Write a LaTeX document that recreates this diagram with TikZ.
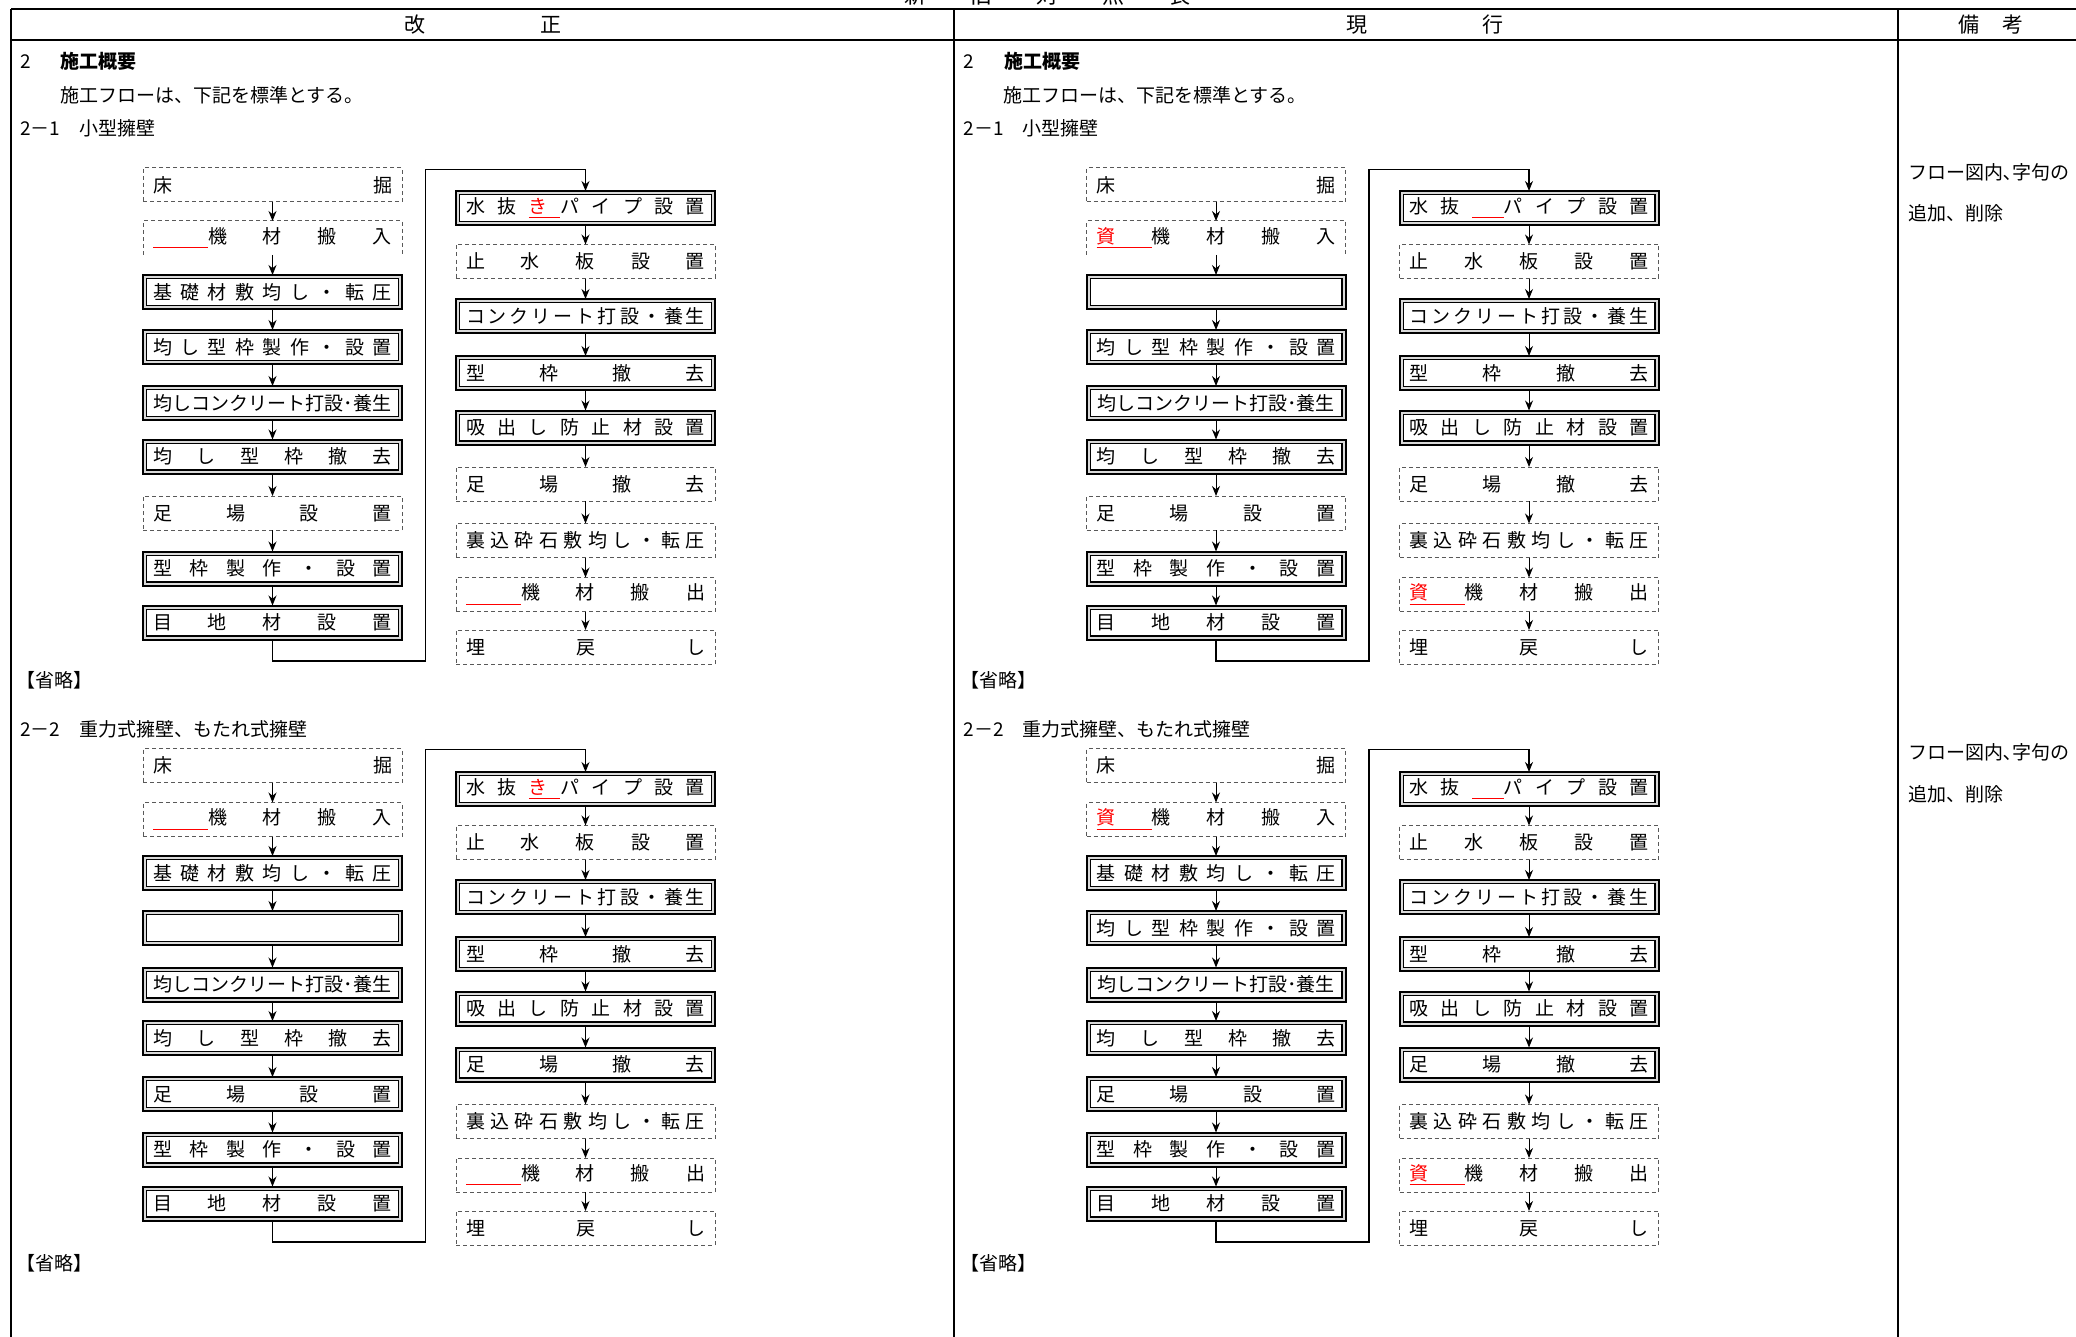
\documentclass[tikz,border=0pt]{standalone}
\usepackage{fontspec}
\setmainfont{Noto Sans CJK JP}
\usetikzlibrary{arrows.meta}
\newcommand\myDist[1]{\hbox to 119.5pt{\myDL#1\relax}}
\def\myDL#1{\ifx#1\relax\else #1\expandafter\myDN\fi}
\def\myDN#1{\ifx#1\relax\else\hfill #1\expandafter\myDN\fi}
\newcommand\myRedLine[1]{\rlap{\color{red}\rule[-2.5pt]{#1}{0.7pt}}}
\newcommand\mySlot{\hbox to 9.5pt{}}
\newcommand\myInBlank{\hbox to 119.5pt{\myRedLine{27.5pt}\mySlot\hfill 機\hfill 材\hfill 搬\hfill 入}}
\newcommand\myOutBlank{\hbox to 119.5pt{\myRedLine{27.5pt}\mySlot\hfill 機\hfill 材\hfill 搬\hfill 出}}
\newcommand\myInShi{\hbox to 119.5pt{\myRedLine{27.5pt}\textcolor{red}{資}\hfill 機\hfill 材\hfill 搬\hfill 入}}
\newcommand\myOutShi{\hbox to 119.5pt{\myRedLine{27.5pt}\textcolor{red}{資}\hfill 機\hfill 材\hfill 搬\hfill 出}}
\newcommand\myPipeKi{\hbox to 119.5pt{水\hfill 抜\hfill \myRedLine{15.7pt}\textcolor{red}{き}\hfill パ\hfill イ\hfill プ\hfill 設\hfill 置}}
\newcommand\myPipeBlank{\hbox to 119.5pt{水\hfill 抜\hfill \myRedLine{15.7pt}\mySlot\hfill パ\hfill イ\hfill プ\hfill 設\hfill 置}}
\newcommand\myNarashiCon{\hbox to 119.5pt{\hss 均しコンクリート打設･養生\hss}}
\tikzset{
  x=0.5pt, y=-0.5pt,
  every node/.style={inner sep=0pt, outer sep=0pt},
  boxbase/.style={minimum width=129.5pt, minimum height=17pt, font=\fontsize{9.5pt}{11pt}\selectfont},
  dashbox/.style={boxbase, draw=gray!70!black, line width=0.5pt, dash pattern=on 2pt off 1.5pt},
  openbox/.style={boxbase},
  dashline/.style={draw=gray!70!black, line width=0.5pt, dash pattern=on 2pt off 1.5pt},
  dbox/.style={boxbase, draw=black, line width=1pt, fill=gray!30,
    path picture={\draw[line width=0.6pt, fill=white] ([shift={(1.8pt,1.8pt)}]path picture bounding box.south west) rectangle ([shift={(-1.8pt,-1.8pt)}]path picture bounding box.north east);}},
  flow/.style={-{Stealth[length=5pt,width=4pt]}, line width=0.5pt},
  link/.style={-{Stealth[length=5pt,width=4pt]}, line width=0.6pt},
  tablerule/.style={line width=1pt},
  txt/.style={anchor=west, font=\fontsize{9.5pt}{11pt}\selectfont},
  head/.style={font=\fontsize{10.5pt}{12pt}\selectfont},
}
\begin{document}
\begin{tikzpicture}
\useasboundingbox (0,0) rectangle (2076,1337);
% cut-off title
\node[anchor=base, font=\fontsize{11pt}{12pt}\selectfont] (title) at (1047,3.5) {新　　旧　　対　　照　　表};
% table rules
\draw[tablerule] (11,9) -- (2076,9);
\draw[tablerule] (11,40) -- (2076,40);
\draw[tablerule] (11,9) -- (11,1337);
\draw[tablerule] (954,9) -- (954,1337);
\draw[tablerule] (1898,9) -- (1898,1337);
% header
\node[head] (h1) at (415,25) {改};
\node[head] (h2) at (551,25) {正};
\node[head] (h3) at (1357,25) {現};
\node[head] (h4) at (1493,25) {行};
\node[head] (h5) at (1969,25) {備};
\node[head] (h6) at (2013,25) {考};
% remarks
\node[txt] (r1) at (1908,172) {フロー図内､字句の};
\node[txt] (r2) at (1908,213) {追加、削除};
\node[txt] (r3) at (1908,752) {フロー図内､字句の};
\node[txt] (r4) at (1908,794) {追加、削除};

% ================= 改正 panel texts =================
\node[txt] (pa1) at (20,61) {2\hspace{15pt}{\bfseries 施工概要}};
\node[txt] (pa2) at (60,95) {施工フローは、下記を標準とする。};
\node[txt] (pa3) at (20,128) {2－1　小型擁壁};
\node[txt] (pa4) at (17,680) {【省略】};
\node[txt] (pa5) at (20,729) {2－2　重力式擁壁、もたれ式擁壁};
\node[txt] (pa6) at (17,1263) {【省略】};

% 改正 2-1
\node[dashbox] (A1) at (272.5,185) {\myDist{床掘}};
\node[openbox] (A2) at (272.5,238) {\myInBlank};
\draw[dashline] (A2.south west) |- (A2.north east) -- (A2.south east);
\node[dbox] (A3) at (272.5,292) {\myDist{基礎材敷均し・転圧}};
\node[dbox] (A4) at (272.5,347) {\myDist{均し型枠製作・設置}};
\node[dbox] (A5) at (272.5,403) {\myNarashiCon};
\node[dbox] (A6) at (272.5,456.5) {\myDist{均し型枠撤去}};
\node[dashbox] (A7) at (272.5,513) {\myDist{足場設置}};
\node[dbox] (A8) at (272.5,568.5) {\myDist{型枠製作・設置}};
\node[dbox] (A9) at (272.5,622.5) {\myDist{目地材設置}};
\node[dbox] (B1) at (585.5,208) {\myPipeKi};
\node[dashbox] (B2) at (585.5,261.5) {\myDist{止水板設置}};
\node[dbox] (B3) at (585.5,316) {\myDist{コンクリート打設・養生}};
\node[dbox] (B4) at (585.5,373) {\myDist{型枠撤去}};
\node[dbox] (B5) at (585.5,427.5) {\myDist{吸出し防止材設置}};
\node[dashbox] (B6) at (585.5,484) {\myDist{足場撤去}};
\node[dashbox] (B7) at (585.5,540.5) {\myDist{裏込砕石敷均し・転圧}};
\node[dashbox] (B8) at (585.5,594.5) {\myOutBlank};
\node[dashbox] (B9) at (585.5,647) {\myDist{埋戻し}};
\foreach \i [evaluate=\i as \j using int(\i+1)] in {1,...,8} {
  \draw[flow] (A\i.south) -- (A\j.north);
  \draw[flow] (B\i.south) -- (B\j.north);
}
\coordinate (ab1) at (425.5,661);
\coordinate (ab2) at (425.5,169.5);
\draw[link] (A9.south) |- (ab1) -- (ab2) -| (B1.north);

% 改正 2-2
\node[dashbox] (E1) at (272.5,765.5) {\myDist{床掘}};
\node[dashbox] (E2) at (272.5,819.5) {\myInBlank};
\node[dbox] (E3) at (272.5,873) {\myDist{基礎材敷均し・転圧}};
\node[dbox] (E4) at (272.5,928) {};
\node[dbox] (E5) at (272.5,984.5) {\myNarashiCon};
\node[dbox] (E6) at (272.5,1038) {\myDist{均し型枠撤去}};
\node[dbox] (E7) at (272.5,1094) {\myDist{足場設置}};
\node[dbox] (E8) at (272.5,1149.5) {\myDist{型枠製作・設置}};
\node[dbox] (E9) at (272.5,1203.5) {\myDist{目地材設置}};
\node[dbox] (F1) at (585.5,789) {\myPipeKi};
\node[dashbox] (F2) at (585.5,842.5) {\myDist{止水板設置}};
\node[dbox] (F3) at (585.5,897) {\myDist{コンクリート打設・養生}};
\node[dbox] (F4) at (585.5,954) {\myDist{型枠撤去}};
\node[dbox] (F5) at (585.5,1008.5) {\myDist{吸出し防止材設置}};
\node[dbox] (F6) at (585.5,1064.5) {\myDist{足場撤去}};
\node[dashbox] (F7) at (585.5,1121.5) {\myDist{裏込砕石敷均し・転圧}};
\node[dashbox] (F8) at (585.5,1175) {\myOutBlank};
\node[dashbox] (F9) at (585.5,1228) {\myDist{埋戻し}};
\foreach \i [evaluate=\i as \j using int(\i+1)] in {1,...,8} {
  \draw[flow] (E\i.south) -- (E\j.north);
  \draw[flow] (F\i.south) -- (F\j.north);
}
\coordinate (ef1) at (425.5,1242);
\coordinate (ef2) at (425.5,749.5);
\draw[link] (E9.south) |- (ef1) -- (ef2) -| (F1.north);

% ================= 現行 panel =================
\begin{scope}[xshift=471.75pt]
\node[txt] (pc1) at (20,61) {2\hspace{15pt}{\bfseries 施工概要}};
\node[txt] (pc2) at (60,95) {施工フローは、下記を標準とする。};
\node[txt] (pc3) at (20,128) {2－1　小型擁壁};
\node[txt] (pc4) at (17,680) {【省略】};
\node[txt] (pc5) at (20,729) {2－2　重力式擁壁、もたれ式擁壁};
\node[txt] (pc6) at (17,1263) {【省略】};

% 現行 2-1
\node[dashbox] (C1) at (272.5,185) {\myDist{床掘}};
\node[openbox] (C2) at (272.5,238) {\myInShi};
\draw[dashline] (C2.south west) |- (C2.north east) -- (C2.south east);
\node[dbox] (C3) at (272.5,292) {};
\node[dbox] (C4) at (272.5,347) {\myDist{均し型枠製作・設置}};
\node[dbox] (C5) at (272.5,403) {\myNarashiCon};
\node[dbox] (C6) at (272.5,456.5) {\myDist{均し型枠撤去}};
\node[dashbox] (C7) at (272.5,513) {\myDist{足場設置}};
\node[dbox] (C8) at (272.5,568.5) {\myDist{型枠製作・設置}};
\node[dbox] (C9) at (272.5,622.5) {\myDist{目地材設置}};
\node[dbox] (D1) at (585.5,208) {\myPipeBlank};
\node[dashbox] (D2) at (585.5,261.5) {\myDist{止水板設置}};
\node[dbox] (D3) at (585.5,316) {\myDist{コンクリート打設・養生}};
\node[dbox] (D4) at (585.5,373) {\myDist{型枠撤去}};
\node[dbox] (D5) at (585.5,427.5) {\myDist{吸出し防止材設置}};
\node[dashbox] (D6) at (585.5,484) {\myDist{足場撤去}};
\node[dashbox] (D7) at (585.5,540.5) {\myDist{裏込砕石敷均し・転圧}};
\node[dashbox] (D8) at (585.5,594.5) {\myOutShi};
\node[dashbox] (D9) at (585.5,647) {\myDist{埋戻し}};
\foreach \i [evaluate=\i as \j using int(\i+1)] in {1,...,8} {
  \draw[flow] (C\i.south) -- (C\j.north);
  \draw[flow] (D\i.south) -- (D\j.north);
}
\coordinate (cd1) at (425.5,661);
\coordinate (cd2) at (425.5,169.5);
\draw[link] (C9.south) |- (cd1) -- (cd2) -| (D1.north);

% 現行 2-2
\node[dashbox] (G1) at (272.5,765.5) {\myDist{床掘}};
\node[dashbox] (G2) at (272.5,819.5) {\myInShi};
\node[dbox] (G3) at (272.5,873) {\myDist{基礎材敷均し・転圧}};
\node[dbox] (G4) at (272.5,928) {\myDist{均し型枠製作・設置}};
\node[dbox] (G5) at (272.5,984.5) {\myNarashiCon};
\node[dbox] (G6) at (272.5,1038) {\myDist{均し型枠撤去}};
\node[dbox] (G7) at (272.5,1094) {\myDist{足場設置}};
\node[dbox] (G8) at (272.5,1149.5) {\myDist{型枠製作・設置}};
\node[dbox] (G9) at (272.5,1203.5) {\myDist{目地材設置}};
\node[dbox] (H1) at (585.5,789) {\myPipeBlank};
\node[dashbox] (H2) at (585.5,842.5) {\myDist{止水板設置}};
\node[dbox] (H3) at (585.5,897) {\myDist{コンクリート打設・養生}};
\node[dbox] (H4) at (585.5,954) {\myDist{型枠撤去}};
\node[dbox] (H5) at (585.5,1008.5) {\myDist{吸出し防止材設置}};
\node[dbox] (H6) at (585.5,1064.5) {\myDist{足場撤去}};
\node[dashbox] (H7) at (585.5,1121.5) {\myDist{裏込砕石敷均し・転圧}};
\node[dashbox] (H8) at (585.5,1175) {\myOutShi};
\node[dashbox] (H9) at (585.5,1228) {\myDist{埋戻し}};
\foreach \i [evaluate=\i as \j using int(\i+1)] in {1,...,8} {
  \draw[flow] (G\i.south) -- (G\j.north);
  \draw[flow] (H\i.south) -- (H\j.north);
}
\coordinate (gh1) at (425.5,1242);
\coordinate (gh2) at (425.5,749.5);
\draw[link] (G9.south) |- (gh1) -- (gh2) -| (H1.north);
\end{scope}
\end{tikzpicture}
\end{document}
